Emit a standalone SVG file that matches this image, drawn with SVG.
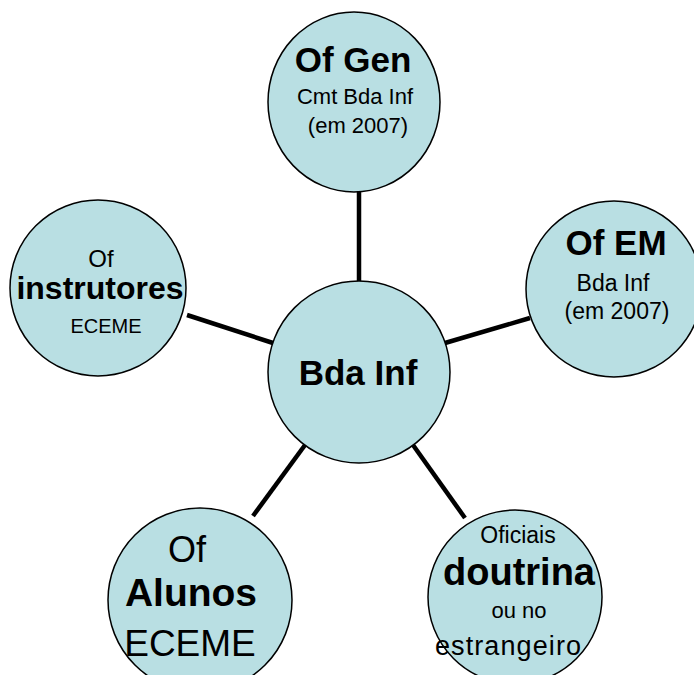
<svg xmlns="http://www.w3.org/2000/svg" width="694" height="675" viewBox="0 0 694 675">
<style>
.n{fill:#b9dfe3;stroke:#000;stroke-width:1.5}
.c{stroke:#000;stroke-width:4.5;fill:none}
text{font-family:"Liberation Sans",Arial,sans-serif;fill:#000;text-anchor:middle}
.b{font-weight:bold}
</style>
<rect width="694" height="675" fill="#fff"/>
<g id="connectors">
<line class="c" x1="359" y1="192" x2="359" y2="282"/>
<line class="c" x1="445" y1="343" x2="530" y2="318"/>
<line class="c" x1="187" y1="315" x2="273" y2="343"/>
<line class="c" x1="305" y1="445" x2="253" y2="516"/>
<line class="c" x1="413" y1="445" x2="465" y2="518"/>
</g>
<g id="n-center">
<circle class="n" cx="359" cy="372" r="91"/>
<text class="b" x="358" y="385" font-size="35">Bda Inf</text>
</g>
<g id="n-ofgen">
<ellipse class="n" cx="354" cy="102" rx="86" ry="90"/>
<text class="b" x="353" y="72" font-size="35">Of Gen</text>
<text x="355" y="104" font-size="22">Cmt Bda Inf</text>
<text x="358" y="133" font-size="22">(em 2007)</text>
</g>
<g id="n-ofem">
<circle class="n" cx="614" cy="289" r="88"/>
<text class="b" x="616" y="255" font-size="35">Of EM</text>
<text x="613" y="291" font-size="23">Bda Inf</text>
<text x="617" y="319" font-size="23">(em 2007)</text>
</g>
<g id="n-instrutores">
<circle class="n" cx="98" cy="288" r="88"/>
<text x="101" y="267" font-size="24">Of</text>
<text class="b" x="100" y="299" font-size="32">instrutores</text>
<text x="106" y="333" font-size="20">ECEME</text>
</g>
<g id="n-alunos">
<circle class="n" cx="200" cy="600" r="92"/>
<text x="187" y="562" font-size="36">Of</text>
<text class="b" x="191" y="606" font-size="39">Alunos</text>
<text x="190" y="656" font-size="37">ECEME</text>
</g>
<g id="n-oficiais">
<circle class="n" cx="515" cy="597" r="87"/>
<text x="518" y="543" font-size="23">Oficiais</text>
<text class="b" x="519" y="585" font-size="38">doutrina</text>
<text x="519" y="618" font-size="22">ou no</text>
<text x="508" y="655" font-size="27" textLength="146" lengthAdjust="spacing">estrangeiro</text>
</g>
</svg>
